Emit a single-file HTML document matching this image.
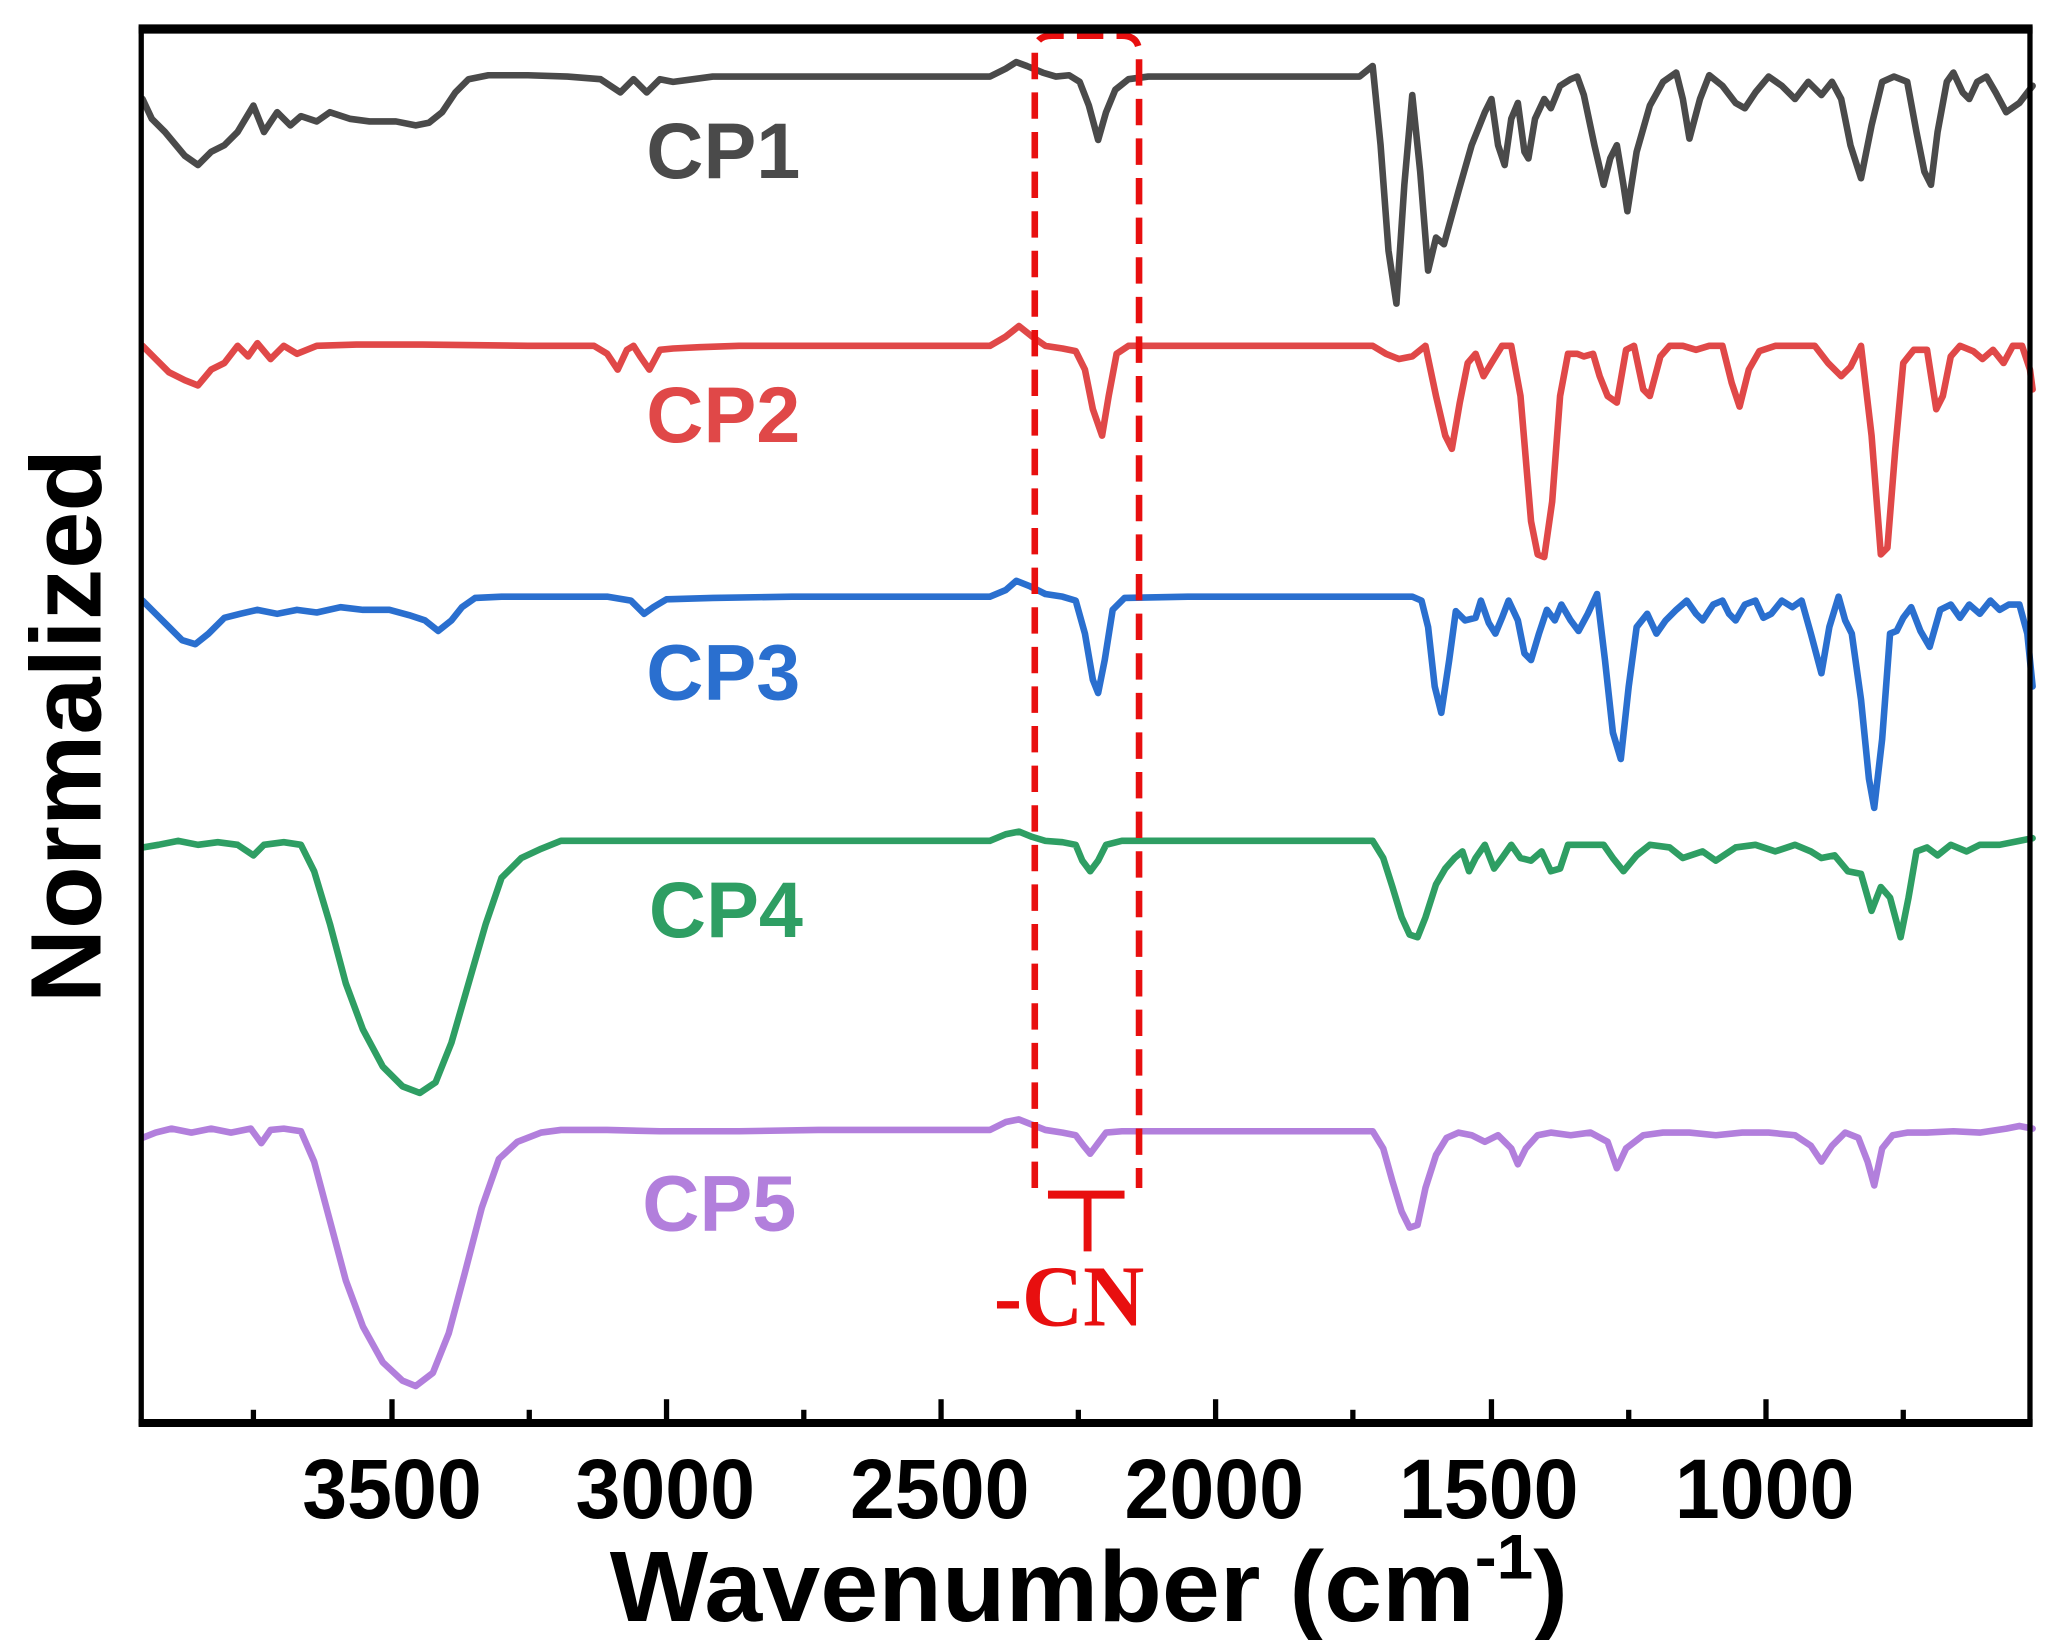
<!DOCTYPE html>
<html><head><meta charset="utf-8"><style>html,body{margin:0;padding:0;background:#fff}svg{display:block}</style></head>
<body>
<svg width="2059" height="1640" viewBox="0 0 1560 1242.4" preserveAspectRatio="none" xmlns="http://www.w3.org/2000/svg">
<rect width="1560" height="1242.4" fill="#fff"/>
<g fill="none" stroke-width="5" stroke-linejoin="round" stroke-linecap="round">
<polyline stroke="#4a4a4a" points="108,75 115,90 125,100 140,118 150,125 160,115 170,110 180,100 192,80 200,100 210,85 220,95 228,88 240,92 250,85 265,90 280,92 300,92 315,95 325,93 335,85 345,70 355,60 370,57 400,57 430,58 455,60 470,70 480,60 490,70 500,60 510,62 540,58 600,58 650,58 700,58 750,58 762,52 770,47 778,50 790,55 800,58 810,57 818,62 825,80 832,106 838,85 845,68 855,60 870,58 950,58 1000,58 1030,58 1040,50 1046,110 1052,190 1058,230 1064,140 1070,72 1076,130 1082,205 1088,180 1094,185 1105,145 1115,110 1125,85 1130,75 1135,110 1140,125 1145,90 1150,78 1155,115 1158,120 1163,90 1170,75 1175,82 1182,65 1190,60 1195,58 1200,72 1208,110 1215,140 1220,120 1225,110 1230,140 1233,160 1240,115 1250,80 1260,62 1270,55 1275,75 1280,105 1288,75 1295,57 1305,65 1315,78 1322,82 1330,70 1340,58 1350,65 1360,75 1370,62 1380,72 1388,62 1395,75 1402,110 1410,135 1418,95 1426,62 1435,58 1445,62 1452,100 1458,130 1463,140 1468,100 1475,62 1480,55 1487,70 1492,75 1498,62 1505,58 1512,70 1520,85 1530,78 1540,65"/>
<polyline stroke="#e04848" points="108,262 118,272 128,282 140,288 150,292 160,280 170,275 180,262 188,270 195,260 205,272 215,262 225,268 240,262 270,261 320,261 400,262 450,262 460,268 468,280 475,265 480,262 485,270 492,280 500,265 510,264 530,263 560,262 620,262 700,262 750,262 762,255 772,247 782,255 792,262 805,264 815,266 822,280 828,310 835,330 840,300 846,268 855,262 900,262 1000,262 1040,262 1050,268 1060,272 1070,270 1080,262 1088,300 1095,330 1100,340 1106,305 1112,275 1118,268 1124,285 1130,275 1138,262 1145,262 1152,300 1160,395 1165,420 1170,422 1176,380 1182,300 1188,268 1195,268 1200,270 1207,268 1212,285 1218,300 1225,305 1232,265 1238,262 1245,295 1250,300 1258,270 1265,262 1275,262 1285,265 1295,262 1305,262 1312,290 1318,308 1325,280 1333,266 1345,262 1360,262 1375,262 1385,275 1395,285 1402,278 1410,262 1418,330 1425,420 1430,415 1436,340 1442,275 1450,265 1460,265 1467,310 1472,300 1478,270 1485,262 1495,266 1502,272 1510,265 1518,275 1525,262 1532,262 1538,280 1540,295"/>
<polyline stroke="#2a6fcf" points="108,455 118,465 128,475 138,485 148,488 158,480 170,468 182,465 195,462 210,465 225,462 240,464 258,460 275,462 295,462 310,466 322,470 332,478 342,470 350,460 360,453 380,452 420,452 460,452 478,455 488,465 495,460 505,454 540,453 600,452 700,452 750,452 762,447 770,440 780,444 792,450 805,452 815,455 822,480 828,515 832,525 837,500 843,462 852,453 900,452 1000,452 1070,452 1077,455 1082,475 1087,520 1092,540 1098,500 1103,463 1110,470 1118,468 1122,455 1128,472 1133,480 1138,468 1143,455 1150,470 1155,495 1160,500 1166,480 1172,462 1178,470 1183,458 1190,470 1196,478 1203,465 1210,450 1216,500 1222,555 1228,575 1234,520 1240,475 1248,465 1255,480 1262,470 1270,462 1278,455 1285,465 1290,470 1298,458 1305,455 1310,465 1315,470 1322,458 1330,455 1336,468 1342,465 1350,455 1358,460 1365,455 1372,480 1380,510 1386,475 1393,452 1398,470 1403,480 1410,530 1416,590 1420,612 1426,560 1432,480 1437,478 1442,468 1448,460 1455,478 1462,490 1470,462 1478,458 1485,468 1492,458 1500,465 1508,455 1515,462 1522,458 1530,458 1536,480 1540,520"/>
<polyline stroke="#2e9e63" points="108,642 120,640 135,637 150,640 165,638 180,640 192,648 200,640 215,638 228,640 238,660 250,700 262,745 275,780 290,808 305,823 318,828 330,820 342,790 355,745 368,700 380,665 395,650 410,643 425,637 460,637 500,637 560,637 620,637 700,637 750,637 762,632 772,630 782,634 792,637 805,638 815,640 820,652 826,660 832,652 838,640 850,637 950,637 1040,637 1048,650 1055,672 1062,695 1068,708 1074,710 1080,695 1088,670 1095,658 1102,650 1108,645 1113,660 1118,650 1125,640 1132,658 1138,650 1145,640 1152,650 1160,652 1168,645 1175,660 1182,658 1188,640 1200,640 1215,640 1222,650 1230,660 1240,648 1250,640 1265,642 1275,650 1290,645 1300,652 1315,642 1330,640 1345,645 1360,640 1372,645 1380,650 1390,648 1400,660 1410,662 1418,690 1425,672 1432,680 1440,710 1446,680 1452,645 1460,642 1468,648 1478,640 1490,645 1500,640 1515,640 1530,637 1540,635"/>
<polyline stroke="#b27fdc" points="108,862 118,858 130,855 145,858 160,855 175,858 190,855 198,866 205,856 215,855 228,857 238,880 250,925 262,970 275,1005 290,1032 305,1046 315,1050 328,1040 340,1010 352,965 365,915 378,878 392,865 410,858 425,856 460,856 500,857 560,857 620,856 700,856 750,856 762,850 772,848 782,852 792,856 805,858 815,860 821,868 826,874 832,866 838,858 850,857 950,857 1040,857 1048,870 1055,895 1062,918 1068,930 1074,928 1080,900 1088,875 1096,862 1105,858 1115,860 1125,865 1135,860 1145,870 1150,882 1156,870 1165,860 1175,858 1190,860 1205,858 1218,865 1225,885 1232,870 1245,860 1260,858 1280,858 1300,860 1320,858 1340,858 1360,860 1372,868 1380,880 1388,868 1398,858 1408,862 1415,880 1420,898 1426,870 1434,860 1445,858 1460,858 1480,857 1500,858 1520,855 1530,853 1540,855"/>
</g>
<path d="M784,900 L784,40 Q784,27 797,27 L850,27 Q863,27 863,40 L863,900" fill="none" stroke="#e80f0f" stroke-width="5" stroke-dasharray="20,10"/>
<path d="M794,905 H852 M824,905 V948" stroke="#e80f0f" stroke-width="6" fill="none"/>
<text x="810" y="1004" font-family="Liberation Serif, serif" font-weight="bold" font-size="66" fill="#e80f0f" text-anchor="middle" textLength="114" lengthAdjust="spacingAndGlyphs">-CN</text>
<g font-family="Liberation Sans, sans-serif" font-weight="bold" font-size="60">
<text x="548" y="135" fill="#4a4a4a" text-anchor="middle">CP1</text>
<text x="548" y="335" fill="#e04848" text-anchor="middle">CP2</text>
<text x="548" y="530" fill="#2a6fcf" text-anchor="middle">CP3</text>
<text x="550" y="710" fill="#2e9e63" text-anchor="middle">CP4</text>
<text x="545" y="932" fill="#b27fdc" text-anchor="middle">CP5</text>
</g>
<rect x="107" y="22" width="1431" height="1056" fill="none" stroke="#000" stroke-width="4"/>
<line x1="105" y1="22" x2="1540" y2="22" stroke="#000" stroke-width="7"/>
<line x1="105" y1="1078" x2="1540" y2="1078" stroke="#000" stroke-width="6"/>
<g stroke="#000" stroke-width="4">
<line x1="297" y1="1078" x2="297" y2="1060"/><line x1="505" y1="1078" x2="505" y2="1060"/><line x1="713" y1="1078" x2="713" y2="1060"/><line x1="921" y1="1078" x2="921" y2="1060"/><line x1="1130" y1="1078" x2="1130" y2="1060"/><line x1="1338" y1="1078" x2="1338" y2="1060"/>
<line x1="192" y1="1078" x2="192" y2="1068"/><line x1="401" y1="1078" x2="401" y2="1068"/><line x1="609" y1="1078" x2="609" y2="1068"/><line x1="817" y1="1078" x2="817" y2="1068"/><line x1="1025" y1="1078" x2="1025" y2="1068"/><line x1="1234" y1="1078" x2="1234" y2="1068"/><line x1="1442" y1="1078" x2="1442" y2="1068"/>
</g>
<g font-family="Liberation Sans, sans-serif" font-weight="bold" font-size="64" fill="#000" text-anchor="middle">
<text x="297" y="1150" textLength="136" lengthAdjust="spacingAndGlyphs">3500</text>
<text x="504" y="1150" textLength="136" lengthAdjust="spacingAndGlyphs">3000</text>
<text x="712" y="1150" textLength="136" lengthAdjust="spacingAndGlyphs">2500</text>
<text x="920" y="1150" textLength="136" lengthAdjust="spacingAndGlyphs">2000</text>
<text x="1128" y="1150" textLength="136" lengthAdjust="spacingAndGlyphs">1500</text>
<text x="1337" y="1150" textLength="136" lengthAdjust="spacingAndGlyphs">1000</text>
</g>
<text x="462" y="1228" font-family="Liberation Sans, sans-serif" font-weight="bold" font-size="76" fill="#000" textLength="726" lengthAdjust="spacingAndGlyphs">Wavenumber (cm<tspan font-size="48" dy="-32">-1</tspan><tspan dy="32">)</tspan></text>
<text transform="translate(76,550) rotate(-90)" x="0" y="0" font-family="Liberation Sans, sans-serif" font-weight="bold" font-size="76" fill="#000" text-anchor="middle" textLength="420" lengthAdjust="spacingAndGlyphs">Normalized</text>
</svg>
</body></html>
